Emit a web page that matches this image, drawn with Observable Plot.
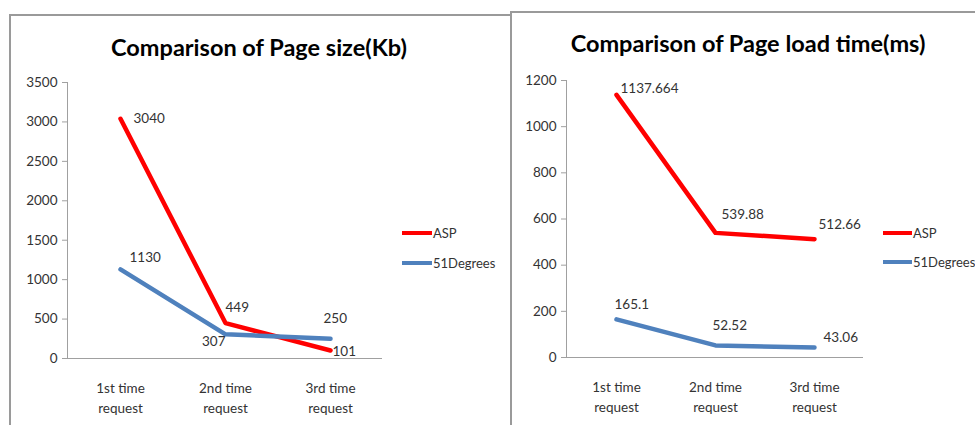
<!DOCTYPE html>
<html><head><meta charset="utf-8">
<script src="https://cdn.jsdelivr.net/npm/d3@7"></script>
<script src="https://cdn.jsdelivr.net/npm/@observablehq/plot@0.6"></script>
<style>
body{margin:0;background:#fff;font-family:Lato,sans-serif;}
#wrap{position:relative;width:975px;height:425px;overflow:hidden;background:#fff;}
.chart{position:absolute;top:0;}
.chart svg{font-family:Lato,sans-serif;}
.line{position:absolute;background:#9a9a9a;pointer-events:none;}
.title{position:absolute;font-weight:bold;font-size:23.5px;color:#000;white-space:nowrap;transform:translate(-50%,-50%);}
.leg{position:absolute;font-size:13px;color:#333;white-space:nowrap;transform:translateY(-50%);display:flex;align-items:center;}
.leg span.sw{display:inline-block;height:4px;margin-right:1px;}
[aria-label="y-axis tick"]{color:#a0a0a0;}
[aria-label="y-axis tick label"],[aria-label="x-axis tick label"]{fill:#333;}
</style>
</head><body>
<div id="wrap"></div>
<script>
// ---- data ----
const categories = ["1st time request", "2nd time request", "3rd time request"];
const seriesNames = ["ASP", "51Degrees"];
const seriesColors = ["#ff0000", "#4f81bd"];
const sizeASP = [3040, 449, 101];
const size51Degrees = [1130, 307, 250];
const loadASP = [1137.664, 539.88, 512.66];
const load51Degrees = [165.1, 52.52, 43.06];
const sizeTicks = [0, 500, 1000, 1500, 2000, 2500, 3000, 3500];
const loadTicks = [0, 200, 400, 600, 800, 1000, 1200];
const titles = ["Comparison of Page size(Kb)", "Comparison of Page load time(ms)"];

function rowsOf(a, b) {
  return categories.flatMap((c, i) => [
    {cat: c, series: seriesNames[0], v: a[i], i},
    {cat: c, series: seriesNames[1], v: b[i], i}
  ]);
}

function makeChart(cfg) {
  const rows = rowsOf(cfg.a, cfg.b);
  const labelMarks = rows.map(r => {
    const [dx, dy, anchor] = cfg.labelPos[r.series][r.i];
    return Plot.text([r], {x: "cat", y: "v", text: d => String(d.v), dx, dy, textAnchor: anchor, fontSize: 13.5, fill: "#333"});
  });
  return Plot.plot({
    width: cfg.width, height: 425,
    marginLeft: cfg.ml, marginRight: cfg.mr, marginTop: cfg.mt, marginBottom: cfg.mb,
    style: {background: "transparent", fontFamily: "Lato, sans-serif"},
    x: {type: "point", domain: categories, padding: 0.5},
    y: {domain: [0, cfg.ticks[cfg.ticks.length - 1]]},
    color: {domain: seriesNames, range: seriesColors},
    marks: [
      Plot.frame({anchor: "left", stroke: "#a0a0a0"}),
      Plot.ruleY([0], {stroke: "#a0a0a0"}),
      Plot.axisY({ticks: cfg.ticks, tickSize: 5, tickPadding: 5, fontSize: 13.5, label: null, tickFormat: d => String(d)}),
      Plot.axisX({tickSize: 0, tickPadding: 20, fontSize: 13.5, lineHeight: 1.5, label: null,
        tickFormat: d => d.replace(" request", "\nrequest")}),
      Plot.lineY(rows, {x: "cat", y: "v", z: "series", stroke: "series", strokeWidth: 4.5}),
      ...labelMarks
    ]
  });
}

const wrap = document.getElementById("wrap");

const left = makeChart({
  a: sizeASP, b: size51Degrees, ticks: sizeTicks, width: 490,
  ml: 67, mr: 108, mt: 82, mb: 67,
  labelPos: {
    "ASP": [[13, 0, "start"], [0, -15, "start"], [2, 1, "start"]],
    "51Degrees": [[9, -12, "start"], [0, 7, "end"], [-7, -20, "start"]]
  }
});
const right = makeChart({
  a: loadASP, b: load51Degrees, ticks: loadTicks, width: 495,
  ml: 86, mr: 112, mt: 80, mb: 68,
  labelPos: {
    "ASP": [[4, -6, "start"], [6, -18, "start"], [4, -14, "start"]],
    "51Degrees": [[-2, -15, "start"], [-3, -20, "start"], [9, -10, "start"]]
  }
});

function place(el, x) {
  const d = document.createElement("div");
  d.className = "chart"; d.style.left = x + "px";
  d.appendChild(el); wrap.appendChild(d);
}
place(left, 0);
place(right, 480);

function addTitle(text, cx, cy) {
  const t = document.createElement("div");
  t.className = "title"; t.textContent = text;
  t.style.left = cx + "px"; t.style.top = cy + "px";
  wrap.appendChild(t);
}
addTitle(titles[0], 259, 47);
addTitle(titles[1], 748, 43);

function addLegend(x, ys, w) {
  seriesNames.forEach((s, k) => {
    const g = document.createElement("div");
    g.className = "leg"; g.style.left = x + "px"; g.style.top = ys[k] + "px";
    const sw = document.createElement("span");
    sw.className = "sw"; sw.style.width = w + "px"; sw.style.background = seriesColors[k];
    g.appendChild(sw); g.appendChild(document.createTextNode(s));
    wrap.appendChild(g);
  });
}
addLegend(402, [233, 263], 30);
addLegend(883, [233, 262], 29);

function addLine(l, t, w, h) {
  const d = document.createElement("div");
  d.className = "line";
  Object.assign(d.style, {left: l + "px", top: t + "px", width: w + "px", height: h + "px"});
  wrap.appendChild(d);
}
addLine(9, 14, 2, 420);
addLine(9, 14, 502, 2);
addLine(510, 11, 2, 420);
addLine(510, 11, 465, 2);
</script>
</body></html>
